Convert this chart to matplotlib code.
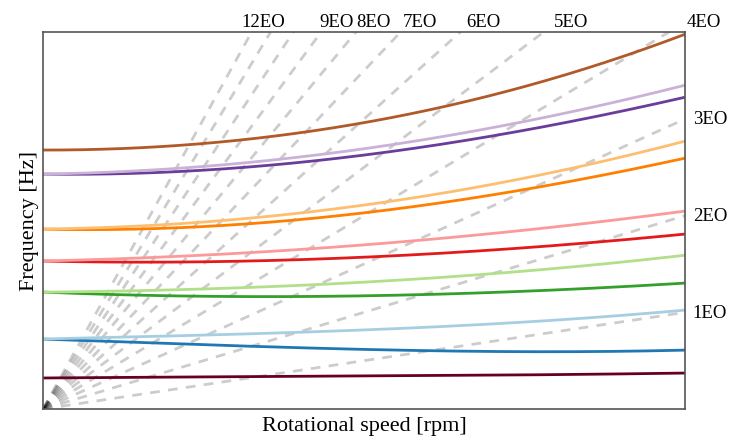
import numpy as np
import matplotlib
matplotlib.use('Agg')
import matplotlib.pyplot as plt

plt.rcParams['font.family'] = ['Liberation Serif', 'DejaVu Serif']

# rotational speed grid [rpm] and sample points of the modal frequencies [Hz]
RPM_MAX = 6000.0
rpm_pts = [0, 1500, 3000, 4500, 6000]

modes = {
    '#67001f':  [32.1, 33.1, 34.2, 35.2, 37.2],
    '#1f78b4':  [72.4, 66.2, 62.1, 59.0, 61.0],
    '#a6cee3':  [72.4, 76.5, 81.7, 90.0, 102.3],
    '#33a02c':  [120.9, 116.8, 116.8, 122.0, 130.2],
    '#b2df8a':  [120.9, 124.1, 131.3, 142.6, 159.1],
    '#e31a1c':  [153.1, 152.1, 157.3, 166.6, 181.0],
    '#fb9a99':  [153.1, 159.3, 169.6, 185.1, 204.7],
    '#ff7f00':  [186.2, 188.2, 203.7, 226.5, 259.6],
    '#fdbf6f':  [186.2, 193.4, 211.0, 238.8, 277.1],
    '#6a3d9a':  [243.0, 247.1, 262.6, 288.4, 322.5],
    '#cab2d6':  [243.0, 251.2, 268.8, 297.7, 334.9],
    '#b15928':  [267.8, 275.0, 295.7, 333.9, 387.6],
}

orders = list(range(1, 13))
labelled_orders = [1, 2, 3, 4, 5, 6, 7, 8, 9, 12]
F_MAX = 3.9 * RPM_MAX / 60.0

fig = plt.figure(figsize=(7.29, 4.39), dpi=100)
ax = fig.add_axes([43 / 729, 29 / 439, 642 / 729, 377 / 439])

rpm = np.linspace(0, RPM_MAX, 200)

# engine order lines
for k in orders:
    ax.plot(rpm, k * rpm / 60.0, ls=(0, (3.5, 3)), c='k', alpha=0.2, lw=2.0)

# modal frequencies (smooth through the read-off points)
for c, f in modes.items():
    coef = np.polyfit(rpm_pts, f, 3)
    ax.plot(rpm, np.polyval(coef, rpm), c=c, lw=2.0)

ax.set_xlim(0, RPM_MAX)
ax.set_ylim(0, F_MAX)

for k in labelled_orders:
    f_end = k * RPM_MAX / 60.0
    if f_end < F_MAX:
        ax.text(RPM_MAX * 1.012, f_end, '%dEO' % k, ha='left', va='center', fontsize=13.5)
    else:
        x_cross = F_MAX * 60.0 / k
        ax.text(x_cross * 1.055, F_MAX * 1.017, '%dEO' % k, ha='center', va='baseline', fontsize=13.5)

ax.set_xticks([])
ax.set_yticks([])
for s in ax.spines.values():
    s.set_color('#555555')
    s.set_linewidth(1.2)
ax.set_xlabel('Rotational speed [rpm]', fontsize=16, labelpad=5)
ax.set_ylabel('Frequency [Hz]', fontsize=16, labelpad=3)

fig.savefig('out.png', dpi=100)
